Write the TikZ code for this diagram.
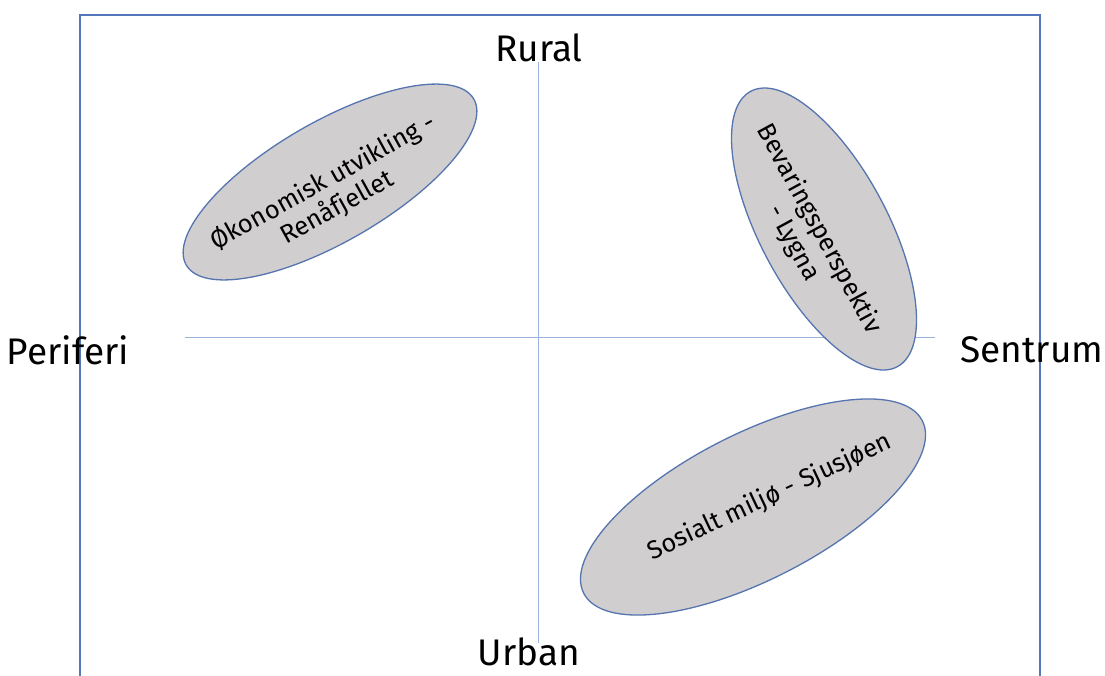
\documentclass[tikz,border=0pt]{standalone}
\usepackage{fontspec}
\setmainfont{Fira Sans}
\usetikzlibrary{shapes.geometric}
\definecolor{framec}{HTML}{5477BA}
\definecolor{axisc}{HTML}{9AB3DE}
\definecolor{fillc}{HTML}{D0CECE}
\definecolor{edgec}{HTML}{5674B0}
\tikzset{
  blob/.style={ellipse, draw=edgec, line width=1.3pt, fill=fillc, inner sep=0pt},
  axislabel/.style={font=\fontsize{37}{42}\selectfont, inner sep=0pt},
  blobtext/.style={font=\fontsize{25.5}{29}\selectfont, align=center, inner sep=0pt},
  axisline/.style={draw=axisc, line width=0.9pt},
  framel/.style={draw=framec, line width=1.8pt}
}
\begin{document}
\begin{tikzpicture}[x=1pt,y=-1pt]
\useasboundingbox (0,0) rectangle (1105,675);
% frame (open at bottom)
\coordinate (fbl) at (80,680);
\coordinate (ftl) at (80,15);
\coordinate (ftr) at (1040,15);
\coordinate (fbr) at (1040,680);
\draw[framel] (fbl) -- (ftl) -- (ftr) -- (fbr);
% axes
\coordinate (vt) at (538,62);
\coordinate (vb) at (538,643);
\coordinate (hl) at (185,337);
\coordinate (hr) at (935,337);
\draw[axisline] (vt) -- (vb);
\draw[axisline] (hl) -- (hr);
% axis labels
\node[axislabel] (rural) at (539,48) {Rural};
\node[axislabel] (urban) at (529,652) {Urban};
\node[axislabel] (periferi) at (68,350) {Periferi};
\node[axislabel] (sentrum) at (1032,350) {Sentrum};
% ellipses
\node[blob, rotate=30, minimum width=332pt, minimum height=120pt] (e1) at (330,182) {};
\node[blob, rotate=-62, minimum width=312pt, minimum height=128pt] (e2) at (824,229) {};
\node[blob, rotate=27, minimum width=380pt, minimum height=146pt] (e3) at (753,507) {};
% ellipse texts
\node[blobtext, rotate=29] (t1) at (330,195) {Økonomisk utvikling -\\Renåfjellet};
\node[blobtext, rotate=-61.5] (t2) at (806,236) {Bevaringsperspektiv\\- Lygna};
\node[blobtext, rotate=25.2] (t3) at (770,497) {Sosialt miljø - Sjusjøen};
\end{tikzpicture}
\end{document}
